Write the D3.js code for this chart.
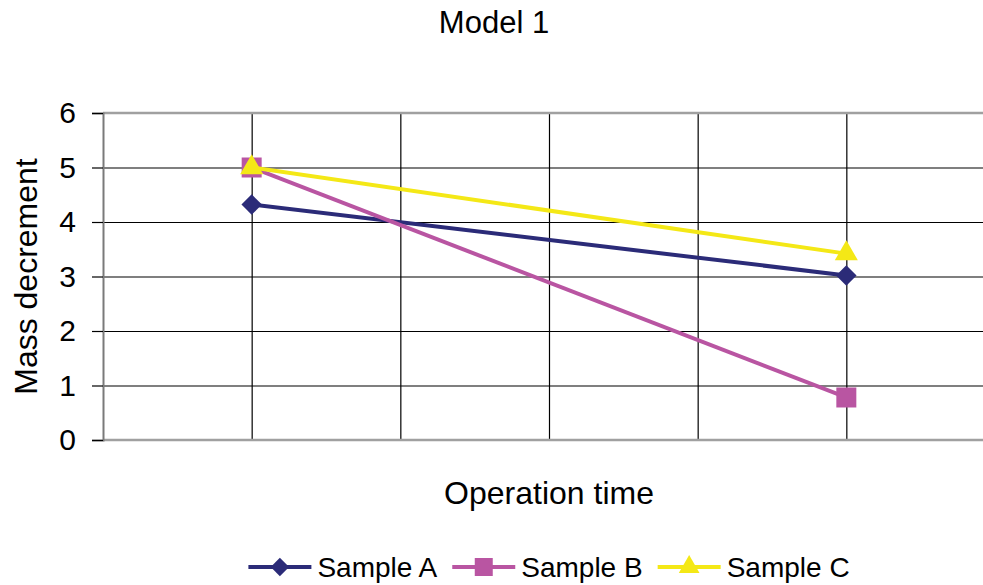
<!DOCTYPE html>
<html>
<head>
<meta charset="utf-8">
<script src="https://cdn.jsdelivr.net/npm/d3@7"></script>
<style>
	html, body { margin: 0; padding: 0; background: #fff; }
	svg { display: block; font-family: "Liberation Sans", Arial, sans-serif; }
</style>
</head>
<body>
<div id="chart"></div>
<script>
// values
const times = [1, 5];
const sampleA = [4.32, 3.02];
const sampleB = [5.0, 0.78];
const sampleC = [5.0, 3.42];
const seriesNames = ['Sample A', 'Sample B', 'Sample C'];
const yTicks = [0, 1, 2, 3, 4, 5, 6];
const xGridTicks = [1, 2, 3, 4, 5];

const width = 983;
const height = 585;
const margin = { top: 113, right: -12, bottom: 145, left: 103 };

const colors = ['#2b2b78', '#b955a2', '#f4e816'];
const symbols = ['diamond', 'square', 'triangle'];

const svg = d3.select('#chart').append('svg')
	.attr('width', width)
	.attr('height', height)
	.attr('viewBox', `0 0 ${width} ${height}`);

const x = d3.scaleLinear()
	.domain([0, 6])
	.range([margin.left, width - margin.right]);

const y = d3.scaleLinear()
	.domain([0, 6])
	.range([height - margin.bottom, margin.top]);

// title
svg.append('text')
	.attr('x', 494)
	.attr('y', 33)
	.attr('text-anchor', 'middle')
	.style('font-size', '31px')
	.text('Model 1');

// horizontal gridlines
svg.append('g')
	.attr('class', 'y grid')
	.attr('transform', `translate(${margin.left},0)`)
	.call(d3.axisRight(y).tickValues(yTicks.slice(1, -1)).tickSize(x.range()[1] - margin.left).tickFormat(''))
	.call((g) => g.select('.domain').remove())
	.call((g) => g.selectAll('line').attr('stroke', '#000').attr('stroke-width', 1.2));

// vertical gridlines
svg.append('g')
	.attr('class', 'x grid')
	.attr('transform', `translate(0,${y(0)})`)
	.call(d3.axisTop(x).tickValues(xGridTicks).tickSize(y(0) - y(6)).tickFormat(''))
	.call((g) => g.select('.domain').remove())
	.call((g) => g.selectAll('line').attr('stroke', '#000').attr('stroke-width', 1.2));

// top and bottom borders of plot area
svg.append('g')
	.selectAll('line')
	.data([0, 6])
	.join('line')
	.attr('x1', x(0))
	.attr('x2', x(6))
	.attr('y1', (d) => y(d))
	.attr('y2', (d) => y(d))
	.attr('stroke', '#a0a0a0')
	.attr('stroke-width', 2.5);

// y axis
const yAxis = svg.append('g')
	.attr('class', 'y axis')
	.attr('transform', `translate(${margin.left},0)`)
	.call(d3.axisLeft(y).tickValues(yTicks).tickSize(11).tickPadding(16).tickFormat(d3.format('d')));

yAxis.select('.domain').attr('stroke', '#7a7a7a').attr('stroke-width', 2);
yAxis.selectAll('.tick line').attr('stroke', '#000').attr('stroke-width', 1.2);
yAxis.selectAll('.tick text')
	.attr('fill', '#000')
	.style('font-size', '30px')
	.style('font-family', '"Liberation Sans", Arial, sans-serif');

// axis titles
svg.append('text')
	.attr('transform', `translate(37,${(y(0) + y(6)) / 2}) rotate(-90)`)
	.attr('text-anchor', 'middle')
	.style('font-size', '32px')
	.text('Mass decrement');

svg.append('text')
	.attr('x', 549)
	.attr('y', 504)
	.attr('text-anchor', 'middle')
	.style('font-size', '32px')
	.text('Operation time');

// markers
function markerPath(kind) {
	if (kind === 'diamond') return d3.symbol(d3.symbolSquare, 210)();
	if (kind === 'square') return d3.symbol(d3.symbolSquare, 400)();
	return d3.symbol(d3.symbolTriangle, 230)();
}

const series = [sampleA, sampleB, sampleC].map((values, i) => ({
	name: seriesNames[i],
	color: colors[i],
	symbol: symbols[i],
	points: times.map((t, j) => ({ t, v: values[j] })),
}));

const line = d3.line()
	.x((d) => x(d.t))
	.y((d) => y(d.v));

const plot = svg.append('g').attr('class', 'series');

series.forEach((s) => {
	const g = plot.append('g');
	g.append('path')
		.datum(s.points)
		.attr('d', line)
		.attr('fill', 'none')
		.attr('stroke', s.color)
		.attr('stroke-width', 4);
	g.selectAll('path.marker')
		.data(s.points)
		.join('path')
		.attr('class', 'marker')
		.attr('d', markerPath(s.symbol))
		.attr('fill', s.color)
		.attr('transform', (d) => `translate(${x(d.t)},${y(d.v)})` + (s.symbol === 'diamond' ? ' rotate(45)' : ''));
});

// legend
const legendY = 567;
const lineLen = 63;
const legend = svg.append('g').attr('class', 'legend');
let cursor = 0;
const items = series.map((s) => {
	const g = legend.append('g');
	g.append('line')
		.attr('x1', 0)
		.attr('x2', lineLen)
		.attr('y1', 0)
		.attr('y2', 0)
		.attr('stroke', s.color)
		.attr('stroke-width', 4);
	g.append('path')
		.attr('d', markerPath(s.symbol))
		.attr('fill', s.color)
		.attr('transform', `translate(${lineLen / 2},0)` + (s.symbol === 'diamond' ? ' rotate(45) scale(0.9)' : ' scale(0.9)'));
	const t = g.append('text')
		.attr('x', lineLen + 6)
		.attr('y', 10)
		.style('font-size', '28px')
		.text(s.name);
	const w = lineLen + 6 + t.node().getComputedTextLength();
	g.attr('transform', `translate(${cursor},${legendY})`);
	cursor += w + 15;
	return w;
});
const legendWidth = cursor - 15;
legend.attr('transform', `translate(${549 - legendWidth / 2},0)`);
</script>
</body>
</html>
